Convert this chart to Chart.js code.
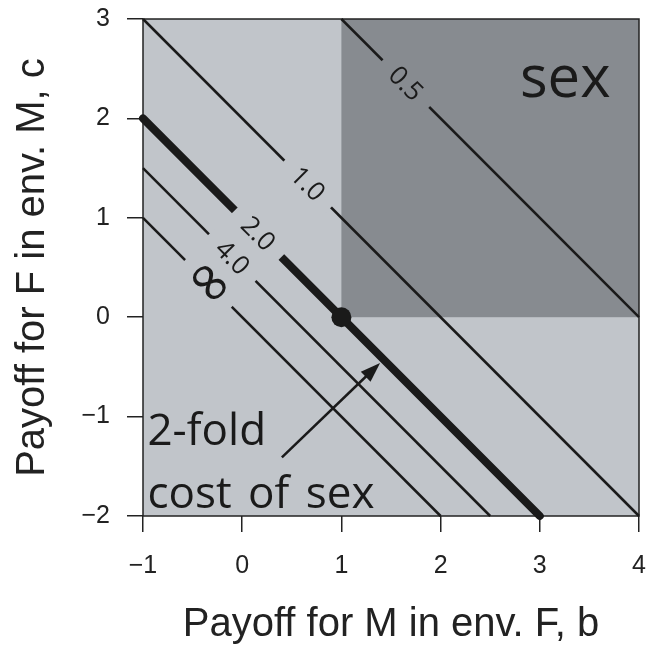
<!DOCTYPE html>
<html>
<head>
<meta charset="utf-8">
<script src="https://cdn.jsdelivr.net/npm/chart.js@4/dist/chart.umd.min.js"></script>
<style>
  html, body { margin: 0; padding: 0; background: #ffffff; }
  #wrap { width: 653px; height: 645px; }
</style>
</head>
<body>
<div id="wrap"><canvas id="chart"></canvas></div>
<script>
// Axis extents and tick labels
const bRange = [-1, 4];
const cRange = [-2, 3];
const xTickLabels = ['\u22121', '0', '1', '2', '3', '4'];
const yTickLabels = ['\u22122', '\u22121', '0', '1', '2', '3'];

// Quadrant where sex is favoured (b > 1, c > 0)
const sexRegionB = [1, 4];
const sexRegionC = [0, 3];

// Contours b + c = const, labelled with the cost of sex they tolerate
const contourLabels = ['0.5', '1.0', '2.0', '4.0', '\u221E'];
const contourStartB = [1, -1, -1, -1, -1];
const contourStartC = [3, 3, 2, 1.5, 1];
const contourEndB = [4, 4, 3, 2.5, 2];
const contourEndC = [0, -2, -2, -2, -2];
const contourLabelB = [1.65, 0.66, 0.16, -0.10, -0.34];
const contourWidth = [2.5, 2.5, 8, 2.5, 2.5];

// Point of the two-fold cost
const pointB = [1];
const pointC = [0];

// Arrow from the annotation to the two-fold contour
const arrowB = [0.40, 1.39];
const arrowC = [-1.41, -0.46];

const LIGHT = '#c1c5ca';
const DARK = '#878b90';
const INK = '#1a1a1a';
const AXIS_FONT = '"Liberation Sans", Arial, sans-serif';
const NOTE_FONT = '"Open Sans", "DejaVu Sans", sans-serif';

const datasets = [{
  data: pointB.map((b, i) => ({ x: b, y: pointC[i] })),
  showLine: false,
  pointRadius: 10,
  pointBackgroundColor: INK,
  pointBorderColor: INK,
  pointBorderWidth: 0,
  clip: false
}];
contourLabels.forEach((lab, i) => {
  const thick = contourWidth[i] > 5;
  datasets.push({
    label: lab,
    data: [{ x: contourStartB[i], y: contourStartC[i] }, { x: contourEndB[i], y: contourEndC[i] }],
    showLine: true,
    borderColor: INK,
    borderWidth: contourWidth[i],
    borderCapStyle: thick ? 'round' : 'butt',
    pointRadius: 0,
    clip: false
  });
});

const regionPlugin = {
  id: 'regions',
  beforeDatasetsDraw(chart) {
    const { ctx, chartArea: a, scales: { x, y } } = chart;
    ctx.save();
    ctx.fillStyle = LIGHT;
    ctx.fillRect(a.left, a.top, a.right - a.left, a.bottom - a.top);
    const x0 = x.getPixelForValue(sexRegionB[0]), x1 = x.getPixelForValue(sexRegionB[1]);
    const y0 = y.getPixelForValue(sexRegionC[1]), y1 = y.getPixelForValue(sexRegionC[0]);
    ctx.fillStyle = DARK;
    ctx.fillRect(x0, y0, x1 - x0, y1 - y0);
    ctx.strokeStyle = '#222';
    ctx.lineWidth = 1.5;
    ctx.strokeRect(a.left, a.top, a.right - a.left, a.bottom - a.top);
    ctx.restore();
  }
};

const annotationPlugin = {
  id: 'annotations',
  afterDatasetsDraw(chart) {
    const { ctx, scales: { x, y } } = chart;
    ctx.save();
    // contour labels, set into a gap in each line
    contourLabels.forEach((lab, i) => {
      const b = contourLabelB[i];
      const t = (b - contourStartB[i]) / (contourEndB[i] - contourStartB[i]);
      const c = contourStartC[i] + t * (contourEndC[i] - contourStartC[i]);
      const px = x.getPixelForValue(b), py = y.getPixelForValue(c);
      const ang = Math.atan2(
        y.getPixelForValue(contourEndC[i]) - y.getPixelForValue(contourStartC[i]),
        x.getPixelForValue(contourEndB[i]) - x.getPixelForValue(contourStartB[i]));
      const inSex = b > sexRegionB[0] && c > sexRegionC[0];
      ctx.save();
      ctx.translate(px, py);
      ctx.rotate(ang);
      ctx.fillStyle = inSex ? DARK : LIGHT;
      ctx.fillRect(-33, -7, 66, 14);
      ctx.fillStyle = INK;
      ctx.textAlign = 'center';
      ctx.textBaseline = 'middle';
      const isInf = lab === '\u221E';
      ctx.font = isInf ? '58px "DejaVu Sans", sans-serif' : '26px ' + NOTE_FONT;
      ctx.fillText(lab, 0, isInf ? 1 : 1);
      ctx.restore();
    });

    // arrow
    const ax0 = x.getPixelForValue(arrowB[0]), ay0 = y.getPixelForValue(arrowC[0]);
    const ax1 = x.getPixelForValue(arrowB[1]), ay1 = y.getPixelForValue(arrowC[1]);
    const ang = Math.atan2(ay1 - ay0, ax1 - ax0);
    const headLen = 20, headHalf = 7;
    ctx.strokeStyle = INK;
    ctx.fillStyle = INK;
    ctx.lineWidth = 2.5;
    ctx.beginPath();
    ctx.moveTo(ax0, ay0);
    ctx.lineTo(ax1 - Math.cos(ang) * headLen * 0.8, ay1 - Math.sin(ang) * headLen * 0.8);
    ctx.stroke();
    ctx.beginPath();
    ctx.moveTo(ax1, ay1);
    ctx.lineTo(ax1 - Math.cos(ang) * headLen - Math.sin(ang) * headHalf,
               ay1 - Math.sin(ang) * headLen + Math.cos(ang) * headHalf);
    ctx.lineTo(ax1 - Math.cos(ang) * headLen + Math.sin(ang) * headHalf,
               ay1 - Math.sin(ang) * headLen - Math.cos(ang) * headHalf);
    ctx.closePath();
    ctx.fill();

    // text notes
    ctx.textAlign = 'left';
    ctx.textBaseline = 'alphabetic';
    ctx.font = '58px ' + NOTE_FONT;
    ctx.fillText('sex', x.getPixelForValue(2.80), y.getPixelForValue(2.22));
    ctx.font = '44px ' + NOTE_FONT;
    ctx.fillText('2-fold', x.getPixelForValue(-0.955), y.getPixelForValue(-1.285));
    if ('wordSpacing' in ctx) ctx.wordSpacing = '5px';
    ctx.fillText('cost of sex', x.getPixelForValue(-0.955), y.getPixelForValue(-1.92));
    ctx.restore();
  }
};

// Fixed axis box sizes; label overhang is absorbed by the layout padding
function fixBox(prop, size) {
  return function (s) {
    s[prop] = size;
    s.paddingTop = 0;
    s.paddingBottom = 0;
    s.paddingLeft = 0;
    s.paddingRight = 0;
  };
}

new Chart(document.getElementById('chart'), {
  type: 'scatter',
  data: { datasets },
  options: {
    responsive: true,
    maintainAspectRatio: false,
    animation: false,
    events: [],
    layout: { padding: { top: 19, right: 14, left: 0, bottom: 0 } },
    plugins: { legend: { display: false }, tooltip: { enabled: false } },
    scales: {
      x: {
        type: 'linear',
        min: bRange[0],
        max: bRange[1],
        afterFit: fixBox('height', 129),
        ticks: {
          stepSize: 1,
          autoSkip: false,
          maxRotation: 0,
          padding: 19,
          color: '#222',
          font: { family: AXIS_FONT, size: 25 },
          callback: (v, i) => xTickLabels[i]
        },
        grid: { drawOnChartArea: false, drawTicks: true, tickLength: 16, color: '#222', lineWidth: 1.5 },
        border: { display: false },
        title: {
          display: true,
          text: 'Payoff for M in env. F, b',
          color: '#222',
          font: { family: AXIS_FONT, size: 40, lineHeight: 1.0 },
          padding: 0
        }
      },
      y: {
        type: 'linear',
        min: cRange[0],
        max: cRange[1],
        afterFit: fixBox('width', 143),
        ticks: {
          stepSize: 1,
          autoSkip: false,
          padding: 17,
          color: '#222',
          font: { family: AXIS_FONT, size: 25 },
          callback: (v, i) => yTickLabels[i]
        },
        grid: { drawOnChartArea: false, drawTicks: true, tickLength: 16, color: '#222', lineWidth: 1.5 },
        border: { display: false },
        title: {
          display: true,
          text: 'Payoff for F in env. M, c',
          color: '#222',
          font: { family: AXIS_FONT, size: 40 },
          padding: { top: 9, bottom: 0 }
        }
      }
    }
  },
  plugins: [regionPlugin, annotationPlugin]
});
</script>
</body>
</html>
